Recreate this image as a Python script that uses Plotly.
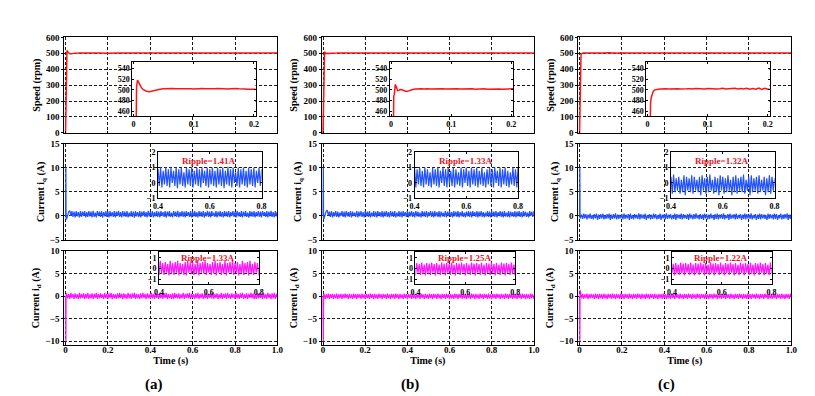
import numpy as np
import plotly.graph_objects as go

FONT = "Liberation Serif, Times New Roman, serif"
RED = "#ff1414"
BLUE = "#2352ff"
MAGENTA = "#ff14ff"
TEXT_RED = "#e8141e"

PANEL_LABELS = ["(a)", "(b)", "(c)"]
Y_TITLES = ["Speed (rpm)", "Current i<sub>q</sub> (A)", "Current i<sub>d</sub> (A)"]
TIME_TITLE = "Time (s)"
TIME_TICKS = [0, 0.2, 0.4, 0.6, 0.8, 1.0]
TIME_TICKTEXT = ["0", "0.2", "0.4", "0.6", "0.8", "1.0"]
IQ_RIPPLE_TEXT = ["Ripple=1.41A", "Ripple=1.33A", "Ripple=1.32A"]
ID_RIPPLE_TEXT = ["Ripple=1.33A", "Ripple=1.25A", "Ripple=1.22A"]

# ---- speed (rpm): start-up part
speed_start_t_a = [0, 0.001, 0.002, 0.003, 0.004, 0.005, 0.0065, 0.008, 0.010, 0.013,
                   0.016, 0.019, 0.022, 0.026, 0.030, 0.034, 0.038, 0.042, 0.046]
speed_start_a = [0, 90, 210, 340, 450, 505, 518, 515, 509, 504,
                 500.5, 498.5, 497.5, 496.5, 497.5, 499.5, 500.5, 501.2, 501.6]
speed_start_t_b = [0, 0.001, 0.002, 0.003, 0.0038, 0.0045, 0.0055, 0.007, 0.009, 0.011,
                   0.013, 0.015, 0.018, 0.021, 0.024, 0.027, 0.031, 0.036, 0.041, 0.046]
speed_start_b = [0, 110, 240, 380, 470, 488, 492, 510, 505, 498.5,
                 499, 500.5, 500, 498.5, 497.5, 497.2, 499, 500.5, 501.5, 502]
speed_start_t_c = [0, 0.001, 0.002, 0.003, 0.004, 0.005, 0.006, 0.007, 0.009, 0.011,
                   0.014, 0.018, 0.022, 0.026, 0.030, 0.035, 0.040, 0.046]
speed_start_c = [0, 100, 230, 350, 445, 475, 485, 490, 496, 499.5,
                 500.5, 501.2, 501.6, 501.0, 501.8, 501.5, 502.0, 501.7]

# steady part: 0.05..0.2 s every 5 ms, then 0.25..1.0 s every 50 ms
speed_tail_t = np.concatenate([np.arange(10, 41) * 0.005, np.arange(5, 21) * 0.05])
speed_tail_a = [501.8, 502.2, 501.5, 502.4, 501.9, 502.1, 501.6, 502.3, 501.8, 502.0,
                501.4, 502.2, 501.7, 502.5, 501.9, 501.6, 502.1, 501.8, 502.3, 501.5,
                502.0, 501.7, 502.4, 501.9, 502.6, 501.8, 502.1, 501.5, 501.2, 500.8, 500.9,
                501.6, 501.8, 501.5, 501.9, 501.7, 501.6, 501.8, 501.5,
                501.7, 501.9, 501.6, 501.8, 501.7, 501.5, 501.8, 501.6]
speed_tail_b = [501.9, 501.4, 502.2, 501.6, 502.0, 501.3, 501.8, 502.1, 501.5, 501.9,
                501.2, 501.7, 502.0, 501.4, 501.8, 501.1, 501.6, 501.9, 501.3, 501.7,
                501.5, 501.8, 501.2, 501.6, 501.9, 501.4, 501.7, 501.3, 502.0, 501.6, 501.8,
                501.6, 501.7, 501.5, 501.8, 501.6, 501.7, 501.5, 501.6,
                501.8, 501.7, 501.5, 501.6, 501.7, 501.6, 501.8, 501.6]
speed_tail_c = [502.0, 501.6, 502.4, 501.8, 502.2, 501.5, 502.6, 501.9, 502.1, 501.4,
                502.5, 501.8, 502.3, 501.6, 502.0, 502.7, 501.5, 502.2, 501.9, 502.8,
                501.4, 502.3, 501.7, 503.0, 501.2, 502.6, 501.0, 503.2, 500.8, 503.0, 501.2,
                502.0, 501.8, 502.1, 501.9, 502.0, 501.8, 502.1, 501.9,
                502.0, 501.8, 502.2, 501.9, 502.0, 501.8, 502.1, 501.9]

# ---- currents (A): start-up spike, then samples every 5 ms from 0.005 to 1.0 s
cur_start_t = [0.0, 0.0005, 0.0015, 0.0025]
iq_start_a = [0, 10, 10, -0.7]
iq_start_b = [0, 10, 10, -0.6]
iq_start_c = [0, 10, 10, -0.4]
id_start_a = [0, -10, -10, 0.3]
id_start_b = [0, -10, -10, 0.2]
id_start_c = [0, -10, -10, 1.3]

ripple_t = np.arange(1, 201) * 0.005

iq_a = [-0.6, 0.3, 0.9, 1.1, 0.0, 1.0, -0.2, 0.9, -0.3, 1.0, -0.1, 0.8, -0.3, 1.0, -0.2, 0.9, 0.0, 1.0, -0.3, 0.8,
        -0.2, 1.0, -0.1, 0.9, -0.3, 1.05, -0.2, 0.7, -0.3, 1.0, 0.0, 0.9, -0.2, 1.0, -0.35, 0.8, -0.1, 1.0, -0.2, 0.9,
        -0.3, 1.0, -0.1, 0.8, -0.2, 1.0, -0.3, 0.9, 0.0, 1.05, -0.2, 0.8, -0.3, 1.0, -0.1, 0.9, -0.2, 1.0, -0.3, 0.7,
        -0.1, 1.0, -0.2, 0.9, -0.35, 1.0, -0.1, 0.8, -0.2, 1.0, -0.3, 0.9, 0.0, 1.0, -0.2, 0.8, -0.3, 1.05, -0.1, 0.9,
        -0.2, 1.0, -0.3, 0.8, -0.1, 1.0, -0.2, 0.9, -0.3, 1.0, 0.0, 0.8, -0.2, 1.0, -0.35, 0.9, -0.1, 1.0, -0.2, 0.7,
        -0.3, 1.0, -0.1, 0.9, -0.2, 1.05, -0.3, 0.8, -0.1, 1.0, -0.2, 0.9, -0.3, 1.0, 0.0, 0.8, -0.2, 1.0, -0.3, 0.9,
        -0.1, 1.0, -0.2, 0.8, -0.3, 1.0, -0.1, 0.9, -0.2, 1.0, -0.35, 0.8, -0.1, 1.05, -0.2, 0.9, -0.3, 1.0, 0.0, 0.7,
        -0.2, 1.0, -0.3, 0.9, -0.1, 1.0, -0.2, 0.8, -0.3, 1.0, -0.1, 0.9, -0.2, 1.0, -0.3, 0.8, 0.0, 1.0, -0.2, 0.9,
        -0.3, 1.05, -0.1, 0.8, -0.2, 1.0, -0.3, 0.9, -0.1, 1.0, -0.2, 0.7, -0.35, 1.0, -0.1, 0.9, -0.2, 1.0, -0.3, 0.8,
        -0.1, 1.0, -0.2, 0.9, -0.3, 1.0, 0.0, 0.8, -0.2, 1.0, -0.3, 0.9, -0.1, 1.05, -0.2, 0.8, -0.3, 1.0, -0.1, 0.9]
iq_b = [-0.5, 0.4, 1.0, 1.2, 0.1, 0.9, -0.2, 1.0, -0.3, 0.8, -0.1, 1.0, -0.2, 0.9, -0.3, 0.7, 0.0, 1.0, -0.2, 0.9,
        -0.3, 1.0, -0.1, 0.8, -0.2, 1.0, -0.3, 0.9, 0.0, 0.7, -0.2, 1.0, -0.3, 0.9, -0.1, 1.0, -0.2, 0.8, -0.3, 1.0,
        -0.1, 0.9, -0.2, 1.0, -0.3, 0.7, -0.1, 1.0, -0.2, 0.9, -0.3, 1.0, 0.0, 0.8, -0.2, 1.0, -0.3, 0.9, -0.1, 1.0,
        -0.2, 0.8, -0.3, 1.0, -0.1, 0.9, -0.2, 1.0, -0.3, 0.7, -0.1, 1.0, -0.2, 0.9, -0.3, 1.0, 0.0, 0.8, -0.2, 1.0,
        -0.3, 0.9, -0.1, 1.0, -0.2, 0.8, -0.3, 1.0, -0.1, 0.9, -0.2, 0.7, -0.3, 1.0, -0.1, 0.9, -0.2, 1.0, -0.3, 0.8,
        0.0, 1.0, -0.2, 0.9, -0.3, 1.0, -0.1, 0.8, -0.2, 1.0, -0.3, 0.9, -0.1, 0.7, -0.2, 1.0, -0.3, 0.9, 0.0, 1.0,
        -0.2, 0.8, -0.3, 1.0, -0.1, 0.9, -0.2, 1.0, -0.3, 0.8, -0.1, 1.0, -0.2, 0.7, -0.3, 0.9, -0.1, 1.0, -0.2, 0.9,
        -0.3, 1.0, 0.0, 0.8, -0.2, 1.0, -0.3, 0.9, -0.1, 1.0, -0.2, 0.8, -0.3, 0.7, -0.1, 1.0, -0.2, 0.9, -0.3, 1.0,
        -0.1, 0.9, -0.2, 1.0, -0.3, 0.8, 0.0, 1.0, -0.2, 0.9, -0.3, 1.0, -0.1, 0.7, -0.2, 1.0, -0.3, 0.9, -0.1, 0.8,
        -0.2, 1.0, -0.3, 0.9, -0.1, 1.0, -0.2, 0.8, -0.3, 1.0, -0.1, 0.9, -0.2, 0.7, -0.3, 1.0, 0.0, 0.9, -0.2, 1.0]
iq_c = [-0.4, 0.3, -0.6, 0.5, -0.5, 0.4, -0.7, 0.3, -0.5, 0.5, -0.6, 0.2, -0.7, 0.4, -0.5, 0.5, -0.8, 0.3, -0.6, 0.4,
        -0.5, 0.5, -0.7, 0.2, -0.6, 0.4, -0.5, 0.5, -0.8, 0.3, -0.6, 0.4, -0.5, 0.55, -0.7, 0.3, -0.6, 0.2, -0.5, 0.4,
        -0.7, 0.5, -0.6, 0.3, -0.5, 0.4, -0.8, 0.5, -0.6, 0.2, -0.7, 0.4, -0.5, 0.3, -0.6, 0.55, -0.7, 0.4, -0.5, 0.3,
        -0.6, 0.5, -0.8, 0.2, -0.5, 0.4, -0.7, 0.3, -0.6, 0.5, -0.5, 0.4, -0.7, 0.2, -0.6, 0.5, -0.8, 0.3, -0.5, 0.4,
        -0.7, 0.55, -0.6, 0.3, -0.5, 0.4, -0.7, 0.2, -0.6, 0.5, -0.8, 0.4, -0.5, 0.3, -0.6, 0.5, -0.7, 0.4, -0.5, 0.2,
        -0.6, 0.4, -0.8, 0.5, -0.5, 0.3, -0.7, 0.4, -0.6, 0.55, -0.5, 0.2, -0.7, 0.4, -0.6, 0.3, -0.8, 0.5, -0.5, 0.4,
        -0.7, 0.3, -0.6, 0.5, -0.5, 0.2, -0.8, 0.4, -0.6, 0.5, -0.7, 0.3, -0.5, 0.4, -0.6, 0.55, -0.7, 0.2, -0.5, 0.4,
        -0.8, 0.5, -0.6, 0.3, -0.5, 0.4, -0.7, 0.5, -0.6, 0.2, -0.5, 0.4, -0.8, 0.3, -0.6, 0.5, -0.7, 0.4, -0.5, 0.3,
        -0.6, 0.55, -0.7, 0.2, -0.5, 0.4, -0.8, 0.3, -0.6, 0.5, -0.7, 0.4, -0.5, 0.3, -0.6, 0.2, -0.8, 0.5, -0.6, 0.4,
        -0.5, 0.3, -0.7, 0.5, -0.6, 0.4, -0.8, 0.2, -0.5, 0.5, -0.7, 0.3, -0.6, 0.4, -0.5, 0.55, -0.8, 0.3, -0.6, 0.4]
id_a = [0.6, -0.5, 0.5, -0.6, 0.7, -0.4, 0.5, -0.65, 0.6, -0.5, 0.4, -0.6, 0.7, -0.5, 0.5, -0.4, 0.6, -0.65, 0.5, -0.5,
        0.7, -0.6, 0.4, -0.5, 0.6, -0.65, 0.5, -0.4, 0.7, -0.6, 0.5, -0.5, 0.6, -0.4, 0.4, -0.65, 0.7, -0.5, 0.5, -0.6,
        0.6, -0.4, 0.7, -0.65, 0.5, -0.5, 0.4, -0.6, 0.6, -0.5, 0.7, -0.4, 0.5, -0.65, 0.6, -0.5, 0.4, -0.6, 0.7, -0.5,
        0.5, -0.6, 0.6, -0.4, 0.7, -0.65, 0.5, -0.5, 0.4, -0.6, 0.6, -0.5, 0.7, -0.4, 0.5, -0.65, 0.6, -0.5, 0.4, -0.6,
        0.7, -0.5, 0.5, -0.6, 0.6, -0.4, 0.4, -0.65, 0.7, -0.5, 0.5, -0.6, 0.6, -0.4, 0.7, -0.65, 0.5, -0.5, 0.4, -0.6,
        0.6, -0.65, 0.7, -0.4, 0.5, -0.5, 0.6, -0.6, 0.4, -0.5, 0.7, -0.65, 0.5, -0.4, 0.6, -0.5, 0.7, -0.6, 0.5, -0.4,
        0.4, -0.6, 0.6, -0.5, 0.7, -0.65, 0.5, -0.4, 0.6, -0.6, 0.4, -0.5, 0.7, -0.65, 0.5, -0.4, 0.6, -0.5, 0.7, -0.6,
        0.5, -0.4, 0.6, -0.65, 0.4, -0.5, 0.7, -0.6, 0.5, -0.4, 0.6, -0.65, 0.7, -0.5, 0.4, -0.6, 0.6, -0.4, 0.5, -0.65,
        0.7, -0.5, 0.5, -0.6, 0.6, -0.4, 0.7, -0.65, 0.4, -0.5, 0.6, -0.6, 0.5, -0.4, 0.7, -0.5, 0.6, -0.65, 0.4, -0.6,
        0.6, -0.5, 0.7, -0.4, 0.5, -0.65, 0.6, -0.5, 0.4, -0.6, 0.7, -0.4, 0.5, -0.65, 0.6, -0.5, 0.7, -0.6, 0.5, -0.4]
id_b = [0.5, -0.6, 0.4, -0.5, 0.55, -0.65, 0.45, -0.4, 0.5, -0.6, 0.35, -0.5, 0.55, -0.65, 0.4, -0.45, 0.5, -0.6, 0.45, -0.5,
        0.55, -0.4, 0.4, -0.65, 0.5, -0.5, 0.35, -0.6, 0.55, -0.45, 0.45, -0.65, 0.5, -0.4, 0.4, -0.6, 0.55, -0.5, 0.35, -0.65,
        0.5, -0.45, 0.45, -0.6, 0.55, -0.4, 0.4, -0.65, 0.5, -0.5, 0.35, -0.6, 0.55, -0.45, 0.45, -0.65, 0.5, -0.4, 0.4, -0.6,
        0.55, -0.5, 0.35, -0.65, 0.5, -0.45, 0.45, -0.6, 0.55, -0.4, 0.4, -0.65, 0.5, -0.5, 0.35, -0.6, 0.55, -0.45, 0.45, -0.65,
        0.5, -0.4, 0.4, -0.6, 0.55, -0.5, 0.35, -0.65, 0.5, -0.45, 0.45, -0.6, 0.55, -0.4, 0.4, -0.65, 0.5, -0.5, 0.35, -0.6,
        0.55, -0.45, 0.45, -0.65, 0.5, -0.4, 0.4, -0.6, 0.55, -0.5, 0.35, -0.65, 0.5, -0.45, 0.45, -0.6, 0.55, -0.4, 0.4, -0.65,
        0.5, -0.5, 0.35, -0.6, 0.55, -0.45, 0.45, -0.65, 0.5, -0.4, 0.4, -0.6, 0.55, -0.5, 0.35, -0.65, 0.5, -0.45, 0.45, -0.6,
        0.55, -0.4, 0.4, -0.65, 0.5, -0.5, 0.35, -0.6, 0.55, -0.45, 0.45, -0.65, 0.5, -0.4, 0.4, -0.6, 0.55, -0.5, 0.35, -0.65,
        0.5, -0.45, 0.45, -0.6, 0.55, -0.4, 0.4, -0.65, 0.5, -0.5, 0.35, -0.6, 0.55, -0.45, 0.45, -0.65, 0.5, -0.4, 0.4, -0.6,
        0.55, -0.5, 0.35, -0.65, 0.5, -0.45, 0.45, -0.6, 0.55, -0.4, 0.4, -0.65, 0.5, -0.5, 0.35, -0.6, 0.55, -0.45, 0.45, -0.65]
id_c = [0.8, -0.5, 0.5, -0.6, 0.4, -0.45, 0.55, -0.65, 0.45, -0.5, 0.5, -0.4, 0.35, -0.6, 0.55, -0.5, 0.45, -0.65, 0.5, -0.45,
        0.4, -0.6, 0.55, -0.5, 0.35, -0.65, 0.5, -0.4, 0.45, -0.6, 0.55, -0.5, 0.4, -0.65, 0.5, -0.45, 0.35, -0.6, 0.55, -0.5,
        0.45, -0.65, 0.5, -0.4, 0.4, -0.6, 0.55, -0.5, 0.35, -0.65, 0.5, -0.45, 0.45, -0.6, 0.55, -0.4, 0.4, -0.65, 0.5, -0.5,
        0.35, -0.6, 0.55, -0.45, 0.45, -0.65, 0.5, -0.4, 0.4, -0.6, 0.55, -0.5, 0.35, -0.65, 0.5, -0.45, 0.45, -0.6, 0.55, -0.4,
        0.4, -0.65, 0.5, -0.5, 0.35, -0.6, 0.55, -0.45, 0.45, -0.65, 0.5, -0.4, 0.4, -0.6, 0.55, -0.5, 0.35, -0.65, 0.5, -0.45,
        0.45, -0.6, 0.55, -0.4, 0.4, -0.65, 0.5, -0.5, 0.35, -0.6, 0.55, -0.45, 0.45, -0.65, 0.5, -0.4, 0.4, -0.6, 0.55, -0.5,
        0.35, -0.65, 0.5, -0.45, 0.45, -0.6, 0.55, -0.4, 0.4, -0.65, 0.5, -0.5, 0.35, -0.6, 0.55, -0.45, 0.45, -0.65, 0.5, -0.4,
        0.4, -0.6, 0.55, -0.5, 0.35, -0.65, 0.5, -0.45, 0.45, -0.6, 0.55, -0.4, 0.4, -0.65, 0.5, -0.5, 0.35, -0.6, 0.55, -0.45,
        0.45, -0.65, 0.5, -0.4, 0.4, -0.6, 0.55, -0.5, 0.35, -0.65, 0.5, -0.45, 0.45, -0.6, 0.55, -0.4, 0.4, -0.65, 0.5, -0.5,
        0.35, -0.6, 0.55, -0.45, 0.45, -0.65, 0.5, -0.4, 0.4, -0.6, 0.55, -0.5, 0.35, -0.65, 0.5, -0.45, 0.45, -0.6, 0.55, -0.4]

speed_t = [np.concatenate([speed_start_t_a, speed_tail_t]),
           np.concatenate([speed_start_t_b, speed_tail_t]),
           np.concatenate([speed_start_t_c, speed_tail_t])]
speed_v = [speed_start_a + speed_tail_a, speed_start_b + speed_tail_b, speed_start_c + speed_tail_c]
cur_t = np.concatenate([cur_start_t, ripple_t])
iq_v = [iq_start_a + iq_a, iq_start_b + iq_b, iq_start_c + iq_c]
id_v = [id_start_a + id_a, id_start_b + id_b, id_start_c + id_c]

# ---- layout geometry, in pixels of the 815x396 picture
W, H = 815, 396


def dom_x(left, right):
    return [left / W, right / W]


def dom_y(top, bottom):
    return [1 - bottom / H, 1 - top / H]


MAIN_X = [dom_x(52, 268), dom_x(313, 528), dom_x(573, 789)]
MAIN_Y = [dom_y(25, 123), dom_y(134, 233), dom_y(244, 341)]
INSET_X = [
    [dom_x(121, 246), dom_x(382, 507), dom_x(642, 767)],
    [dom_x(147, 252), dom_x(407, 512), dom_x(667, 772)],
    [dom_x(148, 249), dom_x(408, 509), dom_x(668, 769)],
]
INSET_Y = [dom_y(50, 106), dom_y(143, 190), dom_y(245, 278)]
LABEL_X = [143, 402, 662]
LABEL_Y = 381

MAIN_YRANGE = [[0, 600], [-5, 15], [-10.9, 10]]
MAIN_YTICKS = [[0, 100, 200, 300, 400, 500, 600], [-5, 0, 5, 10, 15], [-10, -5, 0, 5, 10]]
INSET_XRANGE = [[-0.002, 0.203], [0.4, 0.8], [0.4, 0.8]]
INSET_XTICKS = [[0, 0.1, 0.2], [0.4, 0.6, 0.8], [0.4, 0.6, 0.8]]
INSET_XTEXT = [["0", "0.1", "0.2"], ["0.4", "0.6", "0.8"], ["0.4", "0.6", "0.8"]]
INSET_YRANGE = [[451, 552], [-1, 2], [-1.45, 1.55]]
INSET_YTICKS = [[460, 480, 500, 520, 540], [-1, 0, 1, 2], [-1, 0, 1]]
LINE_W = [1.5, 1.2, 1.2]


def ax_id(k):
    return "" if k == 1 else str(k)


def frame(size=9, **kw):
    d = dict(showline=True, linecolor="black", linewidth=1, mirror=True, zeroline=False,
             tickcolor="black", ticklen=2,
             tickfont=dict(family=FONT, size=size, color="black", weight="bold"))
    d.update(kw)
    return d


fig = go.Figure()
layout = {}
shapes = []
annotations = []

for c in range(3):
    series = [(speed_t[c], speed_v[c], RED), (cur_t, iq_v[c], BLUE), (cur_t, id_v[c], MAGENTA)]
    for r, (x, y, color) in enumerate(series):
        n = r * 3 + c + 1
        m = n + 9
        for k in (n, m):
            fig.add_trace(go.Scatter(x=x, y=y, mode="lines", line=dict(color=color, width=LINE_W[r]),
                                     xaxis="x" + ax_id(k), yaxis="y" + ax_id(k),
                                     showlegend=False, hoverinfo="skip"))

        # main panel
        xa = frame(domain=MAIN_X[c], anchor="y" + ax_id(n), range=[-0.006, 1.0],
                   tickmode="array", tickvals=TIME_TICKS, ticktext=TIME_TICKTEXT,
                   ticks="inside", showticklabels=(r == 2),
                   showgrid=True, gridcolor="#1a1a1a", gridwidth=1, griddash="3px,2px")
        if r == 2:
            xa["ticklabelstandoff"] = -4
            xa["title"] = dict(text=TIME_TITLE, standoff=0,
                               font=dict(family=FONT, size=10, color="black", weight="bold"))
        layout["xaxis" + ax_id(n)] = xa
        layout["yaxis" + ax_id(n)] = frame(
            domain=MAIN_Y[r], anchor="x" + ax_id(n), range=MAIN_YRANGE[r],
            tickmode="array", tickvals=MAIN_YTICKS[r], ticks="outside",
            showgrid=True, gridcolor="#1a1a1a", gridwidth=1, griddash="3px,2px",
            title=dict(text=Y_TITLES[r], standoff=3,
                       font=dict(family=FONT, size=10, color="black", weight="bold")))

        # inset
        layout["xaxis" + ax_id(m)] = frame(
            size=8, domain=INSET_X[r][c], anchor="y" + ax_id(m), range=INSET_XRANGE[r],
            tickmode="array", tickvals=INSET_XTICKS[r], ticktext=INSET_XTEXT[r],
            ticks="inside", mirror="allticks", showgrid=False)
        layout["yaxis" + ax_id(m)] = frame(
            size=8, domain=INSET_Y[r], anchor="x" + ax_id(m), range=INSET_YRANGE[r],
            tickmode="array", tickvals=INSET_YTICKS[r],
            ticks="inside", mirror="allticks", showgrid=False)

        if r == 0:
            # the speed inset is opaque: hide the main grid behind it
            shapes.append(dict(type="rect", xref="x" + ax_id(m), yref="y" + ax_id(m),
                               x0=INSET_XRANGE[r][0], x1=INSET_XRANGE[r][1],
                               y0=INSET_YRANGE[r][0], y1=INSET_YRANGE[r][1],
                               fillcolor="white", line=dict(width=0), layer="between"))
        else:
            text = IQ_RIPPLE_TEXT[c] if r == 1 else ID_RIPPLE_TEXT[c]
            annotations.append(dict(text=text, x=0.595, y=1.42 if r == 1 else 0.98,
                                    xref="x" + ax_id(m), yref="y" + ax_id(m), showarrow=False,
                                    font=dict(family=FONT, size=9, color=TEXT_RED, weight="bold")))

for c, label in enumerate(PANEL_LABELS):
    annotations.append(dict(text=label, x=LABEL_X[c] / W, y=1 - LABEL_Y / H,
                            xref="paper", yref="paper", xanchor="center", yanchor="middle",
                            showarrow=False,
                            font=dict(family=FONT, size=15, color="black", weight="bold")))

fig.update_layout(
    width=W, height=H,
    margin=dict(l=0, r=0, t=0, b=0),
    paper_bgcolor="white", plot_bgcolor="rgba(0,0,0,0)",
    font=dict(family=FONT, size=9, color="black", weight="bold"),
    shapes=shapes, annotations=annotations,
    **layout,
)

fig.write_html("out.html")
